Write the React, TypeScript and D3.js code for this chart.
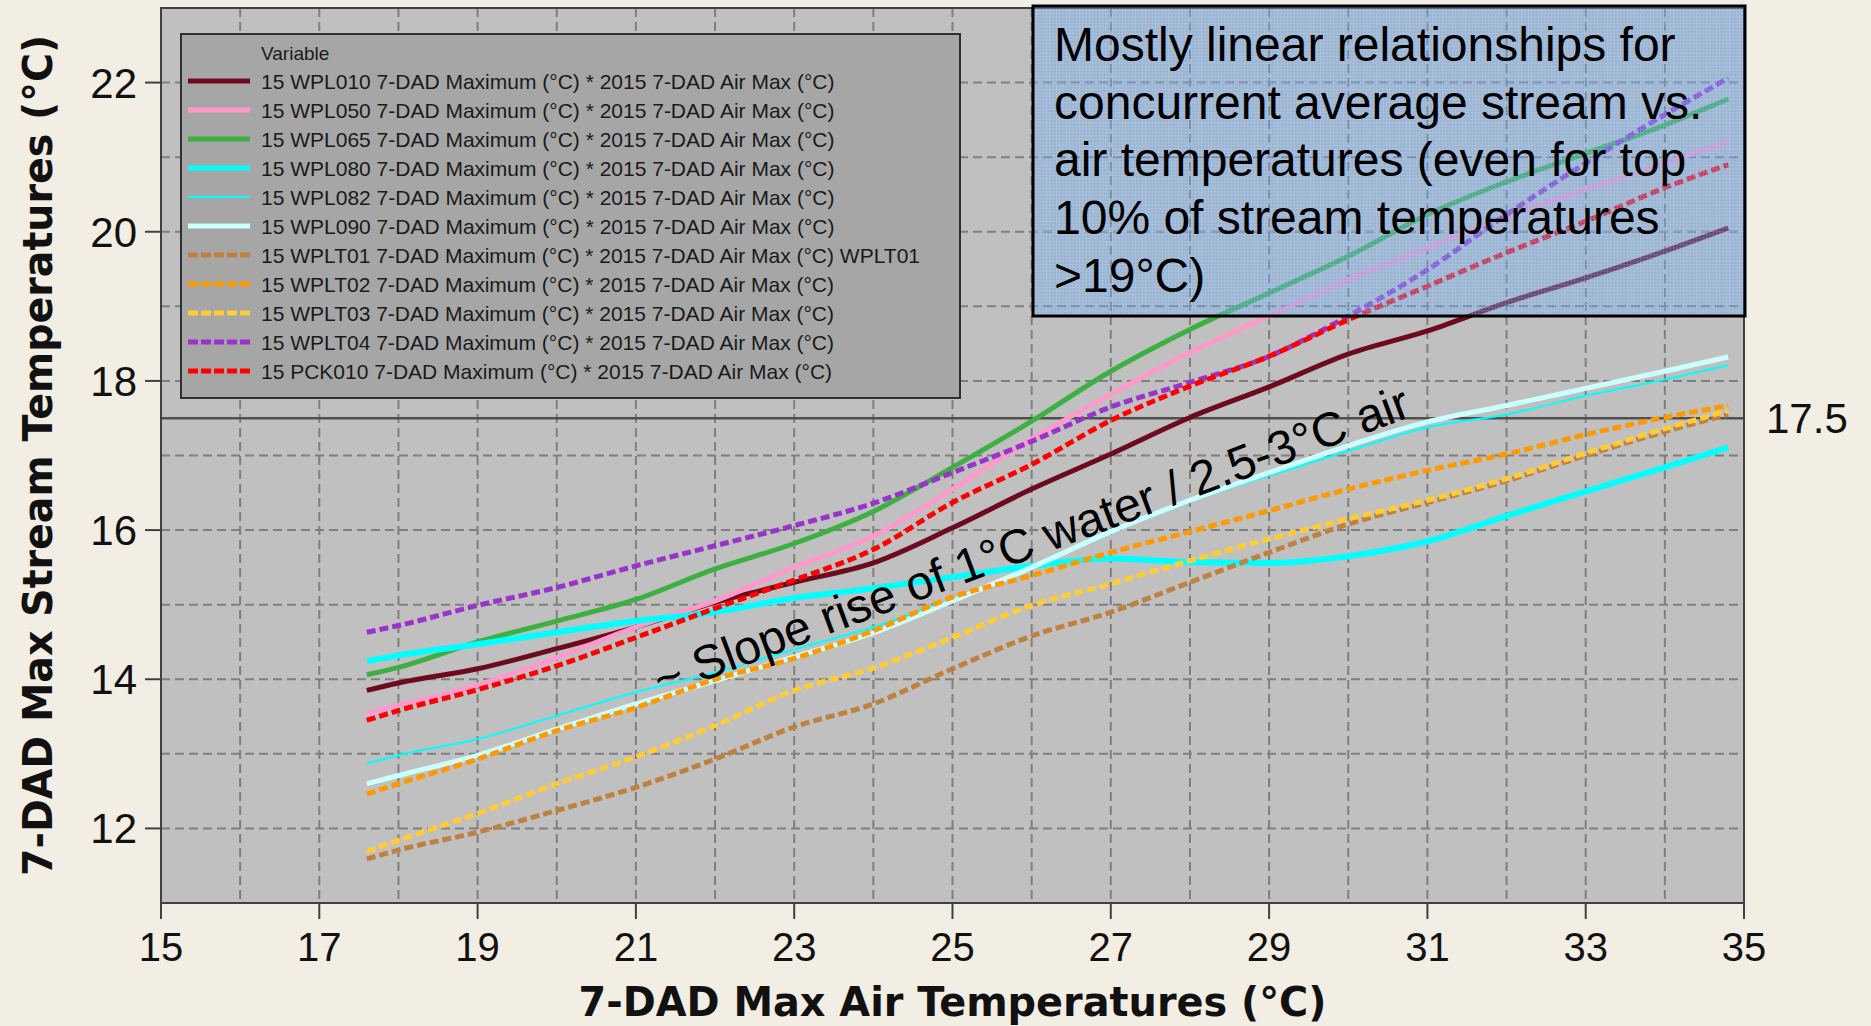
import React from "react";
import * as d3 from "d3";

// ---------- data ----------
const airTemps = [17.6, 18, 19, 20, 21, 22, 23, 24, 25, 26, 27, 28, 29, 30, 31, 32, 33, 34, 34.8];

const wpl010 = [13.85, 13.95, 14.14, 14.41, 14.7, 15.03, 15.3, 15.56, 16.03, 16.55, 17.02, 17.51, 17.92, 18.36, 18.67, 19.05, 19.38, 19.74, 20.05];
const wpl050 = [13.54, 13.65, 13.92, 14.29, 14.7, 15.05, 15.5, 15.92, 16.55, 17.22, 17.82, 18.38, 18.87, 19.36, 19.78, 20.21, 20.56, 20.92, 21.21];
const wpl065 = [14.06, 14.16, 14.5, 14.78, 15.07, 15.48, 15.82, 16.25, 16.84, 17.46, 18.13, 18.69, 19.18, 19.67, 20.23, 20.67, 21.05, 21.43, 21.78];
const wpl080 = [14.24, 14.32, 14.47, 14.63, 14.78, 14.9, 15.09, 15.22, 15.37, 15.52, 15.62, 15.57, 15.56, 15.65, 15.85, 16.19, 16.52, 16.84, 17.11];
const wpl082 = [12.87, 12.98, 13.2, 13.51, 13.83, 14.09, 14.4, 14.7, 15.08, 15.48, 15.96, 16.38, 16.73, 17.06, 17.38, 17.55, 17.8, 18.02, 18.21];
const wpl090 = [12.6, 12.71, 12.98, 13.33, 13.67, 13.98, 14.3, 14.62, 15.05, 15.5, 15.98, 16.4, 16.77, 17.13, 17.45, 17.67, 17.9, 18.13, 18.32];
const wplt01 = [11.59, 11.71, 11.95, 12.24, 12.55, 12.93, 13.36, 13.67, 14.14, 14.58, 14.9, 15.3, 15.7, 16.08, 16.37, 16.66, 17.0, 17.32, 17.55];
const wplt02 = [12.46, 12.6, 12.93, 13.31, 13.62, 14.0, 14.28, 14.65, 15.1, 15.39, 15.7, 15.98, 16.26, 16.55, 16.8, 17.02, 17.28, 17.51, 17.67];
const wplt03 = [11.69, 11.84, 12.2, 12.6, 12.96, 13.38, 13.85, 14.15, 14.56, 14.99, 15.28, 15.59, 15.88, 16.15, 16.4, 16.69, 17.03, 17.36, 17.6];
const wplt04 = [14.63, 14.72, 14.99, 15.23, 15.52, 15.79, 16.06, 16.36, 16.77, 17.19, 17.65, 17.98, 18.33, 18.87, 19.49, 20.23, 20.92, 21.57, 22.06];
const pck010 = [13.45, 13.58, 13.86, 14.18, 14.56, 14.95, 15.33, 15.74, 16.37, 16.88, 17.47, 17.93, 18.33, 18.82, 19.27, 19.72, 20.14, 20.59, 20.9];

const seriesNames = [
  "15 WPL010 7-DAD Maximum (°C) * 2015 7-DAD Air Max (°C)",
  "15 WPL050 7-DAD Maximum (°C) * 2015 7-DAD Air Max (°C)",
  "15 WPL065 7-DAD Maximum (°C) * 2015 7-DAD Air Max (°C)",
  "15 WPL080 7-DAD Maximum (°C) * 2015 7-DAD Air Max (°C)",
  "15 WPL082 7-DAD Maximum (°C) * 2015 7-DAD Air Max (°C)",
  "15 WPL090 7-DAD Maximum (°C) * 2015 7-DAD Air Max (°C)",
  "15 WPLT01 7-DAD Maximum (°C) * 2015 7-DAD Air Max (°C) WPLT01",
  "15 WPLT02 7-DAD Maximum (°C) * 2015 7-DAD Air Max (°C)",
  "15 WPLT03 7-DAD Maximum (°C) * 2015 7-DAD Air Max (°C)",
  "15 WPLT04 7-DAD Maximum (°C) * 2015 7-DAD Air Max (°C)",
  "15 PCK010 7-DAD Maximum (°C) * 2015 7-DAD Air Max (°C)",
];
const seriesValues = [wpl010, wpl050, wpl065, wpl080, wpl082, wpl090, wplt01, wplt02, wplt03, wplt04, pck010];

const xTicks = [15, 17, 19, 21, 23, 25, 27, 29, 31, 33, 35];
const yTicks = [12, 14, 16, 18, 20, 22];
const referenceLevel = 17.5;

const boxLines = [
  "Mostly linear relationships for",
  "concurrent average stream vs.",
  "air temperatures (even for top",
  "10% of stream temperatures",
  ">19°C)",
];
const slopeNote = "~ Slope rise of 1°C water / 2.5-3°C air";
const xTitle = "7-DAD Max Air Temperatures (°C)";
const yTitle = "7-DAD Max Stream Temperatures (°C)";

// ---------- styles ----------
const seriesStyles = [
  { color: "#6e0a1e", width: 5, dash: null },
  { color: "#ff99cc", width: 5, dash: null },
  { color: "#3cb043", width: 5, dash: null },
  { color: "#00ffff", width: 6, dash: null },
  { color: "#00ffff", width: 2, dash: null },
  { color: "#ccffff", width: 5, dash: null },
  { color: "#c08040", width: 5, dash: "9 4" },
  { color: "#ff9900", width: 5, dash: "9 4" },
  { color: "#ffcc33", width: 5, dash: "9 4" },
  { color: "#9933cc", width: 5, dash: "9 4" },
  { color: "#ff0000", width: 5, dash: "9 4" },
];

const W = 1871;
const H = 1026;
const plot = { left: 161, right: 1744, top: 8, bottom: 903 };

export default function App() {
  const x = d3.scaleLinear().domain([15, 35]).range([plot.left, plot.right]);
  const y = d3.scaleLinear().domain([11, 23]).range([plot.bottom, plot.top]);

  const line = d3
    .line<number>()
    .x((_, i) => x(airTemps[i]))
    .y((d) => y(d))
    .curve(d3.curveMonotoneX);

  const xGrid = d3.range(16, 35);
  const yGrid = d3.range(12, 23);
  const tickFont = "'Liberation Sans', Arial, sans-serif";

  const legend = { x: 181, y: 34, w: 779, h: 364 };
  const box = { x: 1033, y: 6, w: 712, h: 310 };

  return (
    <svg
      width={W}
      height={H}
      viewBox={`0 0 ${W} ${H}`}
      style={{ position: "absolute", left: 0, top: 0, display: "block" }}
    >
      <defs>
        <pattern id="boxTex" width={3.3} height={3.3} patternUnits="userSpaceOnUse">
          <rect width={3.3} height={3.3} fill="#4e98f3" fillOpacity={0.36} />
          <path d="M0 0.5H3.3M0.5 0V3.3" stroke="#ffffff" strokeOpacity={0.2} strokeWidth={1} />
        </pattern>
        <clipPath id="plotClip">
          <rect x={plot.left} y={plot.top} width={plot.right - plot.left} height={plot.bottom - plot.top} />
        </clipPath>
      </defs>

      <rect x={0} y={0} width={W} height={H} fill="#f2eee3" />
      <rect
        x={plot.left}
        y={plot.top}
        width={plot.right - plot.left}
        height={plot.bottom - plot.top}
        fill="#c0c0c0"
      />

      {/* grid */}
      <g stroke="#7f7f7f" strokeWidth={2} strokeDasharray="9 5">
        {xGrid.map((v) => (
          <line key={"gx" + v} x1={x(v)} x2={x(v)} y1={plot.top} y2={plot.bottom} />
        ))}
        {yGrid.map((v) => (
          <line key={"gy" + v} x1={plot.left} x2={plot.right} y1={y(v)} y2={y(v)} />
        ))}
      </g>

      {/* reference line */}
      <line
        x1={plot.left}
        x2={plot.right}
        y1={y(referenceLevel)}
        y2={y(referenceLevel)}
        stroke="#505050"
        strokeWidth={2.5}
      />

      {/* series */}
      <g clipPath="url(#plotClip)" fill="none">
        {seriesValues.map((vals, i) => (
          <path
            key={"s" + i}
            d={line(vals) || ""}
            stroke={seriesStyles[i].color}
            strokeWidth={seriesStyles[i].width}
            strokeDasharray={seriesStyles[i].dash || undefined}
            strokeLinejoin="round"
          />
        ))}
      </g>

      {/* plot border */}
      <rect
        x={plot.left}
        y={plot.top}
        width={plot.right - plot.left}
        height={plot.bottom - plot.top}
        fill="none"
        stroke="#404040"
        strokeWidth={2}
      />

      {/* axes ticks */}
      <g stroke="#404040" strokeWidth={2}>
        {xTicks.map((v) => (
          <line key={"tx" + v} x1={x(v)} x2={x(v)} y1={plot.bottom} y2={plot.bottom + 16} />
        ))}
        {yTicks.map((v) => (
          <line key={"ty" + v} x1={plot.left - 16} x2={plot.left} y1={y(v)} y2={y(v)} />
        ))}
      </g>
      <g fontFamily={tickFont} fontSize={40} fill="#111">
        {xTicks.map((v) => (
          <text key={"lx" + v} x={x(v)} y={961} textAnchor="middle">
            {v}
          </text>
        ))}
      </g>
      <g fontFamily={tickFont} fontSize={42} fill="#111">
        {yTicks.map((v) => (
          <text key={"ly" + v} x={137} y={y(v) + 15} textAnchor="end">
            {v}
          </text>
        ))}
        <text x={1766} y={y(referenceLevel) + 15} textAnchor="start">
          {referenceLevel}
        </text>
      </g>

      {/* axis titles */}
      <text
        x={(plot.left + plot.right) / 2}
        y={1016}
        textAnchor="middle"
        fontFamily="'DejaVu Sans', Verdana, sans-serif"
        fontWeight="bold"
        fontSize={41}
        textLength={748}
        lengthAdjust="spacingAndGlyphs"
        fill="#111"
      >
        {xTitle}
      </text>
      <text
        transform={`translate(52, ${(plot.top + plot.bottom) / 2}) rotate(-90)`}
        textAnchor="middle"
        fontFamily="'DejaVu Sans', Verdana, sans-serif"
        fontWeight="bold"
        fontSize={40}
        textLength={841}
        lengthAdjust="spacingAndGlyphs"
        fill="#111"
      >
        {yTitle}
      </text>

      {/* legend */}
      <g>
        <rect
          x={legend.x}
          y={legend.y}
          width={legend.w}
          height={legend.h}
          fill="#a6a6a6"
          stroke="#303030"
          strokeWidth={2}
        />
        <text x={261} y={60} fontFamily={tickFont} fontSize={19} fill="#1a1a1a">
          Variable
        </text>
        {seriesNames.map((name, i) => {
          const cy = 81 + i * 29;
          const st = seriesStyles[i];
          return (
            <g key={"lg" + i}>
              <line
                x1={188}
                x2={250}
                y1={cy}
                y2={cy}
                stroke={st.color}
                strokeWidth={st.width === 2 ? 2 : 5}
                strokeDasharray={st.dash ? "10 3" : undefined}
              />
              <text x={261} y={cy + 7.5} fontFamily={tickFont} fontSize={21} fill="#1a1a1a">
                {name}
              </text>
            </g>
          );
        })}
      </g>

      {/* slope annotation */}
      <text
        transform="translate(661, 697) rotate(-20.5)"
        fontFamily={tickFont}
        fontSize={48}
        fill="#000"
      >
        {slopeNote}
      </text>

      {/* note box */}
      <g>
        <rect x={box.x} y={box.y} width={box.w} height={box.h} fill="url(#boxTex)" stroke="#000" strokeWidth={3} />
        {boxLines.map((t, i) => (
          <text key={"bl" + i} x={1054} y={61 + i * 57.7} fontFamily={tickFont} fontSize={48} fill="#000">
            {t}
          </text>
        ))}
      </g>
    </svg>
  );
}
